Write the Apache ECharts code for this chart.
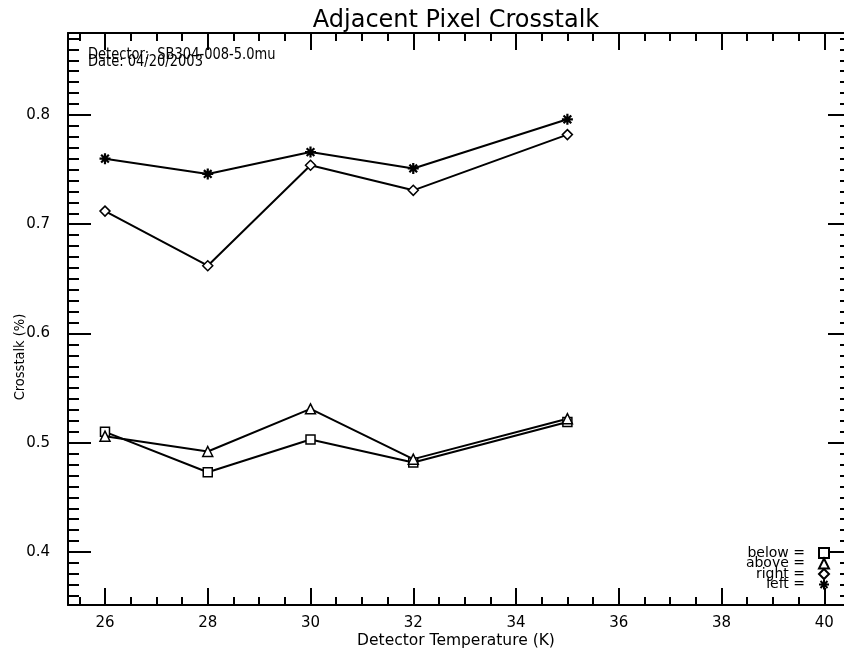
<!DOCTYPE html>
<html>
<head>
<meta charset="utf-8">
<script src="https://cdn.jsdelivr.net/npm/echarts@6/dist/echarts.min.js"></script>
<style>html,body{margin:0;padding:0;background:#fff;overflow:hidden}#c{width:860px;height:650px}</style>
</head>
<body>
<div id="c"></div>
<script>
// ---- data ----
const temperatures = [26, 28, 30, 32, 35];
const below = [0.510, 0.473, 0.503, 0.482, 0.519];
const above = [0.506, 0.492, 0.531, 0.485, 0.522];
const right = [0.712, 0.662, 0.754, 0.731, 0.782];
const left  = [0.760, 0.746, 0.766, 0.751, 0.796];
const xMajorTicks = [26, 28, 30, 32, 34, 36, 38, 40];
const yMajorTicks = [0.4, 0.5, 0.6, 0.7, 0.8];
const titleText = 'Adjacent Pixel Crosstalk';
const xTitle = 'Detector Temperature (K)';
const yTitle = 'Crosstalk (%)';
const noteLines = ['Detector:  SB304-008-5.0mu', 'Date: 04/20/2003'];
const legendNames = ['below =', 'above =', 'right =', 'left ='];

// minor tick positions
const xMinor = [];
for (let i = 51; i <= 81; i++) { const v = i / 2; if (v % 2 !== 0) xMinor.push(v); }
const yMinor = [];
for (let i = 36; i <= 87; i++) { if (i % 10 !== 0) yMinor.push(i / 100); }

const FONT = "'DejaVu Sans', sans-serif";
const XMIN = 25.28, XMAX = 40.52, YMIN = 0.3515, YMAX = 0.875;

const asterisk = 'path://M0,5L10,5M5,0L5,10M1.5,1.5L8.5,8.5M8.5,1.5L1.5,8.5';
const icons = ['rect', 'triangle', 'diamond', asterisk];

function pairs(ys) { return temperatures.map((t, i) => [t, ys[i]]); }

function xAxisDef(pos, ticks, len, show) {
  return {
    type: 'value', position: pos, min: XMIN, max: XMAX,
    axisLine: { show: show, lineStyle: { color: '#000', width: 2 } },
    splitLine: { show: false },
    axisTick: { show: true, inside: true, length: len, customValues: ticks, lineStyle: { color: '#000', width: 2 } },
    axisLabel: { show: pos === 'bottom' && len > 10, customValues: ticks, color: '#000', fontSize: 15, fontFamily: FONT, margin: 11 }
  };
}
function yAxisDef(pos, ticks, len, show) {
  return {
    type: 'value', position: pos, min: YMIN, max: YMAX,
    axisLine: { show: show, lineStyle: { color: '#000', width: 2 } },
    splitLine: { show: false },
    axisTick: { show: true, inside: true, length: len, customValues: ticks, lineStyle: { color: '#000', width: 2 } },
    axisLabel: { show: pos === 'left' && len > 15, customValues: ticks, color: '#000', fontSize: 15, fontFamily: FONT, margin: 18,
      formatter: v => v.toFixed(1) }
  };
}

const lineSeries = (name, ys, symbol, size, fill, bw) => ({
  name: name, type: 'line', data: pairs(ys), symbol: symbol, symbolSize: size,
  showAllSymbol: true,
  lineStyle: { color: '#000', width: 2 },
  itemStyle: { color: fill, borderColor: '#000', borderWidth: bw },
  emphasis: { disabled: true }, animation: false, z: 3
});

const legendTops = [546, 556.5, 567, 577.5];
const legends = legendNames.map((n, i) => ({
  orient: 'vertical', align: 'right', right: 30, top: legendTops[i], padding: 0,
  itemWidth: 10, itemHeight: 10, itemGap: 0,
  textStyle: { fontFamily: FONT, fontSize: 14, color: '#000', padding: [0, 9, 0, 0] },
  data: [{ name: n, icon: icons[i] }],
  selectedMode: false
}));

const chart = echarts.init(document.getElementById('c'), null, { renderer: 'canvas' });
chart.setOption({
  backgroundColor: '#fff',
  animation: false,
  title: { text: titleText, left: 451, top: 4, textAlign: 'center',
    textStyle: { fontFamily: FONT, fontSize: 24, fontWeight: 'normal', color: '#000' } },
  grid: { left: 68, top: 33, width: 783, height: 572, containLabel: false },
  xAxis: [
    xAxisDef('bottom', xMajorTicks, 17, true),
    xAxisDef('bottom', xMinor, 8, false),
    xAxisDef('top', xMajorTicks, 17, true),
    xAxisDef('top', xMinor, 8, false)
  ],
  yAxis: [
    yAxisDef('left', yMajorTicks, 23, true),
    yAxisDef('left', yMinor, 11, false),
    yAxisDef('right', yMajorTicks, 23, true),
    yAxisDef('right', yMinor, 11, false)
  ],
  legend: legends,
  graphic: [
    { type: 'text', x: 88, y: 55.5, scaleX: 0.87,
      style: { text: noteLines[0], font: '15px ' + FONT, fill: '#000', verticalAlign: 'middle' } },
    { type: 'text', x: 88, y: 62, scaleX: 0.87,
      style: { text: noteLines[1], font: '15px ' + FONT, fill: '#000', verticalAlign: 'middle' } },
    { type: 'text', x: 456, y: 641, style: { text: xTitle, font: '15.5px ' + FONT, fill: '#000', align: 'center', verticalAlign: 'middle' } },
    { type: 'text', x: 20, y: 357, rotation: Math.PI / 2, scaleX: 0.93,
      style: { text: yTitle, font: '14px ' + FONT, fill: '#000', align: 'center', verticalAlign: 'middle' } }
  ],
  series: [
    lineSeries('below =', below, 'rect', 9, '#fff', 1.5),
    lineSeries('above =', above, 'triangle', 10, '#fff', 1.5),
    lineSeries('right =', right, 'diamond', 10, '#fff', 1.5),
    lineSeries('left =', left, asterisk, 11, '#000', 2.2)
  ]
});
</script>
</body>
</html>
